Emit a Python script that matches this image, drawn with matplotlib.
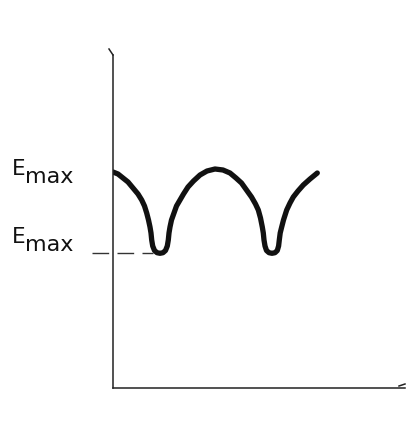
import matplotlib.pyplot as plt

# curve (axis units: x right of the y axis, y above the x axis)
curve_x = [0, 5, 10, 15, 20, 25, 28.7, 31.5, 33.7, 35.5, 37, 38, 38.7, 39.7, 41.5, 44, 47,
           50, 52.5, 54.3, 55.3, 56, 57, 58.5, 61, 63.5, 67, 70.5, 75, 80.5, 87, 94,
           102, 110, 117, 123, 128.5, 133.5, 138.5, 142.5, 145.3, 147.5, 149.3, 150.3,
           151, 152, 153.5, 156, 159, 162, 164.3, 165.6, 166.3, 167.2, 168.7, 170.5,
           173.7, 177, 180.3, 185, 190.3, 197, 204.3]
curve_y = [216, 214, 210, 206, 200, 194, 188, 182, 175, 168, 161, 155, 148, 142, 137.5, 135.3, 134.7,
           135.3, 137.5, 142, 148, 155, 161, 168, 175, 182, 188, 194, 201, 207, 213, 217,
           219, 218, 215, 210, 205, 198, 191, 184, 178, 170, 161, 155,
           148, 142, 137.5, 135.3, 134.7, 135.3, 137.5, 142, 148, 155, 161, 168,
           178, 185, 191, 197, 203, 209, 215]
e_levels = [213, 145]
e_labels = ["max", "max"]

fig = plt.figure(figsize=(4.13, 4.45), dpi=100)
ax = fig.add_axes([113 / 413, 57 / 445, 292 / 413, 333 / 445])
ax.set_xlim(0, 292)
ax.set_ylim(0, 333)
for s in ["top", "right"]:
    ax.spines[s].set_visible(False)
for s in ["left", "bottom"]:
    ax.spines[s].set_linewidth(1.1)
    ax.spines[s].set_color("#222222")
ax.set_xticks([])
ax.set_yticks([])

ax.plot(curve_x, curve_y, color="#111111", lw=3.8, solid_capstyle="round", solid_joinstyle="round")

# dashed level at the bottom of the dips
ax.plot([-21, 40], [135, 135], color="#333333", lw=1.0,
        dashes=(12, 6), clip_on=False)

# small arrow tips on the axes
ax.plot([0, -4], [333, 339], color="#222222", lw=1.1, clip_on=False)
ax.plot([286, 292], [2, 4], color="#222222", lw=1.1, clip_on=False)

for lvl, sub in zip(e_levels, e_labels):
    ax.text(-101, lvl, "E", fontsize=15.5, ha="left", va="baseline", color="#111111")
    ax.text(-88.5, lvl - 8, sub, fontsize=16, ha="left", va="baseline", color="#111111")

fig.savefig("out.png", dpi=100)
